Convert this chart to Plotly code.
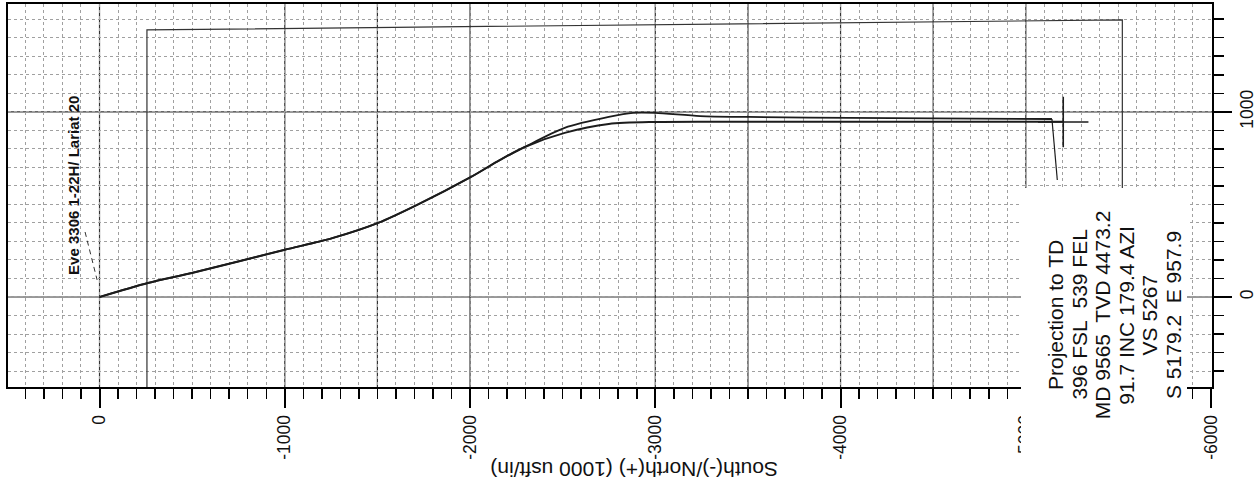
import plotly.graph_objects as go

# ---- data ----
# South(-)/North(+) on the horizontal axis, West(-)/East(+) on the vertical axis
plan_ns = [0, -262, -499, -996, -1261, -1504, -1714, -2005, -2162, -2295, -2511, -2749, -2880, -2999, -3242, -3501, -4051, -5141]
plan_ew = [0, 76, 130, 254, 319, 400, 497, 648, 740, 810, 913, 972, 994, 994, 977, 972, 967, 961]
act_ns = [0, -262, -499, -996, -1261, -1504, -1714, -2005, -2162, -2295, -2511, -2749, -2999, -3501, -4051, -5202]
act_ew = [0, 76, 130, 254, 319, 400, 497, 648, 740, 810, 886, 934, 945, 946, 946, 946]
proj_ns = [-5141, -5170]
proj_ew = [961, 632]
td_ns = [-5202]
td_ew = [945]
hard_ns = [-256, -256, -5521, -5521]
hard_ew = [-486, 1442, 1496, 589]
lead_ns = [78, 13]
lead_ew = [351, 92]
major_v = [0, -1000, -1500, -2000, -3000, -3500, -4000, -4500, -5000]
major_h = [0, 1000]
x_tickvals = [0, -1000, -2000, -3000, -4000, -5000, -6000]
x_ticktext = ["0", "-1000", "-2000", "-3000", "-4000", "-5000", "-6000"]
y_tickvals = [0, 1000]
y_ticktext = ["0", "1000"]
well_label = "Eve 3306 1-22H/ Lariat 20"
proj_lines = ["Projection to TD",
              "396 FSL\u00a0 539 FEL",
              "MD 9565\u00a0 TVD 4473.2",
              "91.7 INC 179.4 AZI",
              "VS 5267",
              "S 5179.2\u00a0 E 957.9"]
x_title = "South(-)/North(+) (1000 usft/in)"

FONT = "Liberation Sans, Arial, sans-serif"
INK = "#1c1c1c"

fig = go.Figure()
fig.add_trace(go.Scatter(x=hard_ns, y=hard_ew, mode="lines",
                         line=dict(color="#333", width=1.2), hoverinfo="skip"))
fig.add_trace(go.Scatter(x=lead_ns, y=lead_ew, mode="lines",
                         line=dict(color="#333", width=1, dash="5px,4px"), hoverinfo="skip"))
fig.add_trace(go.Scatter(x=plan_ns, y=plan_ew, mode="lines",
                         line=dict(color=INK, width=1.8, shape="spline", smoothing=0.8)))
fig.add_trace(go.Scatter(x=act_ns, y=act_ew, mode="lines",
                         line=dict(color=INK, width=2, shape="spline", smoothing=0.8)))
fig.add_trace(go.Scatter(x=proj_ns, y=proj_ew, mode="lines",
                         line=dict(color=INK, width=1.2)))
fig.add_trace(go.Scatter(x=td_ns, y=td_ew, mode="markers",
                         marker=dict(symbol="cross-thin", size=36,
                                     line=dict(color=INK, width=1.6))))

shapes = []
for v in major_v:
    shapes.append(dict(type="line", xref="x", yref="paper", x0=v, x1=v, y0=0, y1=1,
                       line=dict(color="#333", width=1.2), layer="below"))
for h in major_h:
    shapes.append(dict(type="line", xref="paper", yref="y", x0=0, x1=1, y0=h, y1=h,
                       line=dict(color="#333", width=1.2), layer="below"))
# white label box that masks the grid and the axis
shapes.append(dict(type="rect", xref="paper", yref="paper",
                   x0=(1021 - 8) / 1204, x1=(1187 - 8) / 1204,
                   y0=-0.3, y1=(387 - 188) / 383,
                   fillcolor="white", line=dict(width=0), layer="above"))

annotations = [
    dict(x=138, y=605, xref="x", yref="y", text="<b>%s</b>" % well_label,
         textangle=-90, showarrow=False, font=dict(family=FONT, size=15, color="#111"),
         xanchor="center", yanchor="middle"),
    dict(x=(634 - 8) / 1204, y=(387 - 470) / 383, xref="paper", yref="paper",
         text=x_title, textangle=180, showarrow=False,
         font=dict(family=FONT, size=21, color="#111"), xanchor="center", yanchor="middle"),
]
for i, t in enumerate(proj_lines):
    px = 1055 + i * 23.6
    annotations.append(dict(x=(px - 8) / 1204, y=(387 - 315) / 383, xref="paper", yref="paper",
                            text=t, textangle=-90, showarrow=False,
                            font=dict(family=FONT, size=21, color="#111"),
                            xanchor="center", yanchor="middle"))

fig.update_layout(
    width=1257, height=486,
    margin=dict(l=8, r=45, t=4, b=99, autoexpand=False),
    paper_bgcolor="white", plot_bgcolor="white",
    showlegend=False, hovermode=False,
    shapes=shapes, annotations=annotations,
    xaxis=dict(range=[494, -6005], tickmode="array", tickvals=x_tickvals, ticktext=x_ticktext,
               ticks="outside", ticklen=19, tickwidth=2, tickcolor="black",
               tickangle=-90, tickfont=dict(family=FONT, size=17.5, color="#111"),
               showgrid=False, zeroline=False, automargin=False,
               showline=True, linewidth=2, linecolor="black", mirror=True,
               minor=dict(tickmode="linear", dtick=100, tick0=0, ticks="outside", ticklen=10,
                          tickwidth=1.5, tickcolor="black", showgrid=True, gridcolor="#a0a0a0",
                          griddash="dot", gridwidth=1)),
    yaxis=dict(range=[-486, 1582], side="right", tickmode="array", tickvals=y_tickvals,
               ticktext=y_ticktext,
               ticks="outside", ticklen=18, tickwidth=2, tickcolor="black",
               tickangle=-90, tickfont=dict(family=FONT, size=17.5, color="#111"),
               showgrid=False, zeroline=False, automargin=False,
               showline=True, linewidth=2, linecolor="black", mirror=True,
               minor=dict(tickmode="linear", dtick=100, tick0=0, ticks="outside", ticklen=10,
                          tickwidth=1.5, tickcolor="black", showgrid=True, gridcolor="#a0a0a0",
                          griddash="dot", gridwidth=1)),
)

fig.write_html("out.html", config={"displayModeBar": False, "staticPlot": True},
               post_script="document.body.style.margin='0';document.body.style.overflow='hidden';")
